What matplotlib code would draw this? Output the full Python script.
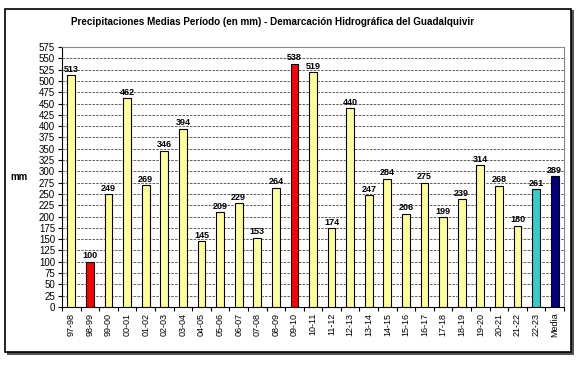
import matplotlib
matplotlib.use("Agg")
import matplotlib.pyplot as plt
from matplotlib.patches import Rectangle

# periodos hidrologicos y precipitacion media (mm)
periodos = ["97-98", "98-99", "99-00", "00-01", "01-02", "02-03", "03-04", "04-05",
            "05-06", "06-07", "07-08", "08-09", "09-10", "10-11", "11-12", "12-13",
            "13-14", "14-15", "15-16", "16-17", "17-18", "18-19", "19-20", "20-21",
            "21-22", "22-23", "Media"]
valores = [513, 100, 249, 462, 269, 346, 394, 145, 209, 229, 153, 264, 538, 519,
           174, 440, 247, 284, 206, 275, 199, 239, 314, 268, 180, 261, 289]

colores = []
for p, v in zip(periodos, valores):
    if p == "Media":
        colores.append("#000080")
    elif p == "22-23":
        colores.append("#33CCCC")
    elif v in (100, 538):
        colores.append("#FF0000")
    else:
        colores.append("#FFFF99")

fig = plt.figure(figsize=(5.83, 3.65), dpi=100)

# marco exterior con sombra
fig.patches.append(Rectangle((0.012, 0.028), 0.972, 0.945, transform=fig.transFigure,
                             facecolor="#555555", edgecolor="none", zorder=0))
fig.patches.append(Rectangle((0.008, 0.036), 0.971, 0.94, transform=fig.transFigure,
                             facecolor="white", edgecolor="black", linewidth=1.2, zorder=1))

ax = fig.add_axes([62 / 583, 1 - 307 / 365, (564 - 62) / 583, (307 - 47) / 365])
ax.set_zorder(2)

x = range(len(periodos))
ax.bar(x, valores, width=0.42, color=colores, edgecolor="black", linewidth=0.8, zorder=3)

for xi, v in zip(x, valores):
    ax.text(xi, v + 3, str(v), ha="center", va="bottom", fontsize=6.5,
            fontweight="bold", family="Liberation Sans", zorder=4)

ax.set_xlim(-0.5, len(periodos) - 0.5)
ax.set_ylim(0, 575)
ax.set_yticks(range(0, 576, 25))
ax.yaxis.grid(True, linestyle=(0, (3, 1.5)), color="#444444", linewidth=0.6, zorder=0)
ax.set_axisbelow(True)

ax.set_xticks([i - 0.5 for i in range(len(periodos) + 1)], minor=False)
ax.set_xticklabels([])
ax.set_xticks(list(x), minor=True)
ax.set_xticklabels(periodos, minor=True, rotation=90, fontsize=6.5, family="Liberation Sans")
ax.tick_params(axis="x", which="minor", length=0, pad=4)
ax.tick_params(axis="x", which="major", length=3, direction="out")
ax.tick_params(axis="y", labelsize=7, length=3, pad=2)
for lab in ax.get_yticklabels():
    lab.set_family("Liberation Sans")

for s in ["top", "right"]:
    ax.spines[s].set_color("#888888")
    ax.spines[s].set_linewidth(0.8)

ax.set_ylabel("mm", rotation=0, fontsize=7, fontweight="bold", family="Liberation Sans",
              labelpad=14, va="center")

fig.text(273 / 583, 1 - 22 / 365, "Precipitaciones Medias Período (en mm) - Demarcación Hidrográfica del Guadalquivir",
         ha="center", va="center", fontsize=7.1, fontweight="bold", family="Liberation Sans")

fig.savefig("out.png", dpi=100)
